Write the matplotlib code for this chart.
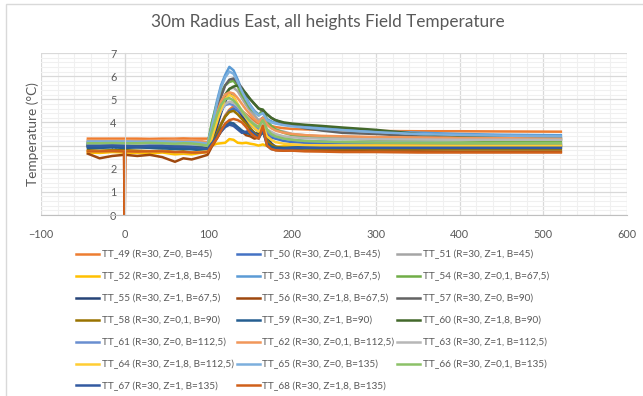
import matplotlib
matplotlib.use("Agg")
import matplotlib.pyplot as plt
from matplotlib.patches import Rectangle
from matplotlib.ticker import MultipleLocator

plt.rcParams['font.family'] = ['Lato', 'DejaVu Sans']

# Elapsed time (s) shared by all sensors
time_s = [-44, -30, -15, -1, 0, 1, 15, 30, 45, 60, 70, 80, 90, 99,
          104, 110, 115, 120, 125, 130, 135, 140, 145, 150, 155, 160, 165, 170, 175, 180, 190, 200,
          215, 235, 260, 300, 350, 400, 450, 521]

tt_49 = [3.30, 3.30, 3.30, 3.30, 3.30, 3.30, 3.30, 3.29, 3.30, 3.30, 3.31, 3.30, 3.30, 3.30,
         3.35, 3.60, 3.95, 4.30, 4.55, 4.70, 4.65, 4.50, 4.35, 4.20, 4.05, 3.95, 4.10, 3.90, 3.85, 3.80, 3.75, 3.72,
         3.70, 3.68, 3.65, 3.63, 3.62, 3.62, 3.61, 3.60]
tt_50 = [3.00, 3.02, 3.00, 3.01, 3.00, 3.00, 2.98, 3.00, 2.99, 2.95, 2.90, 2.92, 2.95, 2.90,
         3.10, 3.50, 3.90, 4.25, 4.50, 4.60, 4.50, 4.30, 4.10, 3.90, 3.75, 3.60, 3.85, 3.50, 3.35, 3.30, 3.20, 3.15,
         3.12, 3.10, 3.10, 3.08, 3.07, 3.06, 3.05, 3.05]
tt_51 = [3.05, 3.05, 3.06, 3.05, 3.05, 3.05, 3.04, 3.05, 3.06, 3.05, 3.04, 3.03, 3.00, 2.95,
         3.40, 4.10, 4.70, 5.15, 5.45, 5.50, 5.35, 5.05, 4.75, 4.50, 4.30, 4.10, 4.20, 3.95, 3.80, 3.70, 3.60, 3.50,
         3.45, 3.40, 3.38, 3.35, 3.33, 3.32, 3.30, 3.30]
tt_52 = [2.70, 2.68, 2.72, 2.70, 2.70, 2.70, 2.68, 2.66, 2.70, 2.62, 2.65, 2.62, 2.68, 2.72,
         3.00, 3.08, 3.10, 3.12, 3.28, 3.25, 3.12, 3.10, 3.12, 3.08, 3.05, 3.00, 3.05, 2.98, 2.95, 2.95, 2.97, 2.98,
         3.00, 3.00, 2.98, 3.00, 2.99, 3.00, 2.98, 2.98]
tt_53 = [3.15, 3.15, 3.14, 3.15, 3.15, 3.15, 3.16, 3.15, 3.14, 3.12, 3.13, 3.12, 3.10, 3.05,
         3.90, 4.90, 5.60, 6.05, 6.40, 6.25, 5.85, 5.40, 5.05, 4.75, 4.50, 4.35, 4.45, 4.15, 4.05, 3.98, 3.92, 3.87,
         3.82, 3.76, 3.70, 3.62, 3.56, 3.50, 3.47, 3.45]
tt_54 = [3.12, 3.12, 3.13, 3.12, 3.12, 3.12, 3.10, 3.12, 3.13, 3.10, 3.11, 3.12, 3.10, 3.05,
         4.00, 4.80, 5.30, 5.60, 5.75, 5.80, 5.55, 5.20, 4.90, 4.60, 4.45, 4.30, 4.55, 4.10, 3.85, 3.70, 3.55, 3.45,
         3.38, 3.32, 3.28, 3.25, 3.23, 3.22, 3.20, 3.20]
tt_55 = [2.95, 2.95, 2.97, 2.95, 2.95, 2.95, 2.93, 2.95, 2.96, 2.92, 2.90, 2.90, 2.88, 2.85,
         3.20, 3.80, 4.40, 4.90, 5.25, 5.10, 4.70, 4.30, 4.00, 3.70, 3.55, 3.50, 4.20, 3.40, 3.10, 2.95, 2.85, 2.85,
         2.90, 2.92, 2.95, 2.97, 2.98, 3.00, 3.00, 3.00]
tt_56 = [2.65, 2.45, 2.55, 2.60, 2.60, 2.60, 2.55, 2.60, 2.50, 2.30, 2.45, 2.40, 2.50, 2.60,
         2.95, 3.30, 3.60, 3.85, 4.00, 3.95, 3.75, 3.60, 3.45, 3.40, 3.30, 3.35, 3.90, 3.20, 2.90, 2.80, 2.78, 2.80,
         2.78, 2.78, 2.76, 2.75, 2.75, 2.74, 2.74, 2.74]
tt_57 = [3.05, 3.05, 3.06, 3.04, 3.05, 3.05, 3.05, 3.05, 3.04, 3.02, 3.00, 3.00, 2.98, 2.95,
         3.60, 4.50, 5.10, 5.60, 5.85, 5.90, 5.70, 5.50, 5.20, 5.00, 4.80, 4.60, 4.50, 4.35, 4.20, 4.10, 3.95, 3.90,
         3.75, 3.65, 3.55, 3.50, 3.40, 3.32, 3.28, 3.25]
tt_58 = [2.80, 2.78, 2.80, 2.80, 2.80, 2.80, 2.78, 2.76, 2.78, 2.72, 2.75, 2.70, 2.72, 2.75,
         3.10, 3.50, 3.90, 4.25, 4.45, 4.50, 4.35, 4.15, 3.95, 3.75, 3.55, 3.40, 3.60, 3.20, 3.05, 2.95, 2.90, 2.88,
         2.87, 2.86, 2.85, 2.85, 2.85, 2.84, 2.84, 2.84]
tt_59 = [2.90, 2.90, 2.92, 2.90, 2.90, 2.90, 2.92, 2.90, 2.88, 2.85, 2.86, 2.84, 2.80, 2.78,
         3.10, 3.40, 3.70, 3.90, 4.00, 3.95, 3.80, 3.65, 3.55, 3.50, 3.45, 3.35, 3.60, 3.10, 2.95, 2.90, 2.90, 2.92,
         2.93, 2.94, 2.95, 2.95, 2.95, 2.95, 2.95, 2.95]
tt_60 = [3.00, 3.00, 3.01, 3.00, 3.00, 3.00, 2.99, 3.00, 3.00, 2.98, 2.97, 2.96, 2.95, 2.90,
         3.40, 4.20, 4.80, 5.20, 5.45, 5.55, 5.60, 5.45, 5.25, 5.00, 4.80, 4.60, 4.55, 4.35, 4.20, 4.10, 4.00, 3.95,
         3.90, 3.85, 3.78, 3.68, 3.50, 3.42, 3.36, 3.32]
tt_61 = [3.08, 3.08, 3.09, 3.08, 3.08, 3.08, 3.07, 3.08, 3.08, 3.05, 3.06, 3.05, 3.02, 3.00,
         3.50, 4.10, 4.50, 4.75, 4.80, 4.75, 4.60, 4.40, 4.20, 4.00, 3.85, 3.70, 3.95, 3.60, 3.45, 3.38, 3.30, 3.25,
         3.20, 3.18, 3.15, 3.13, 3.12, 3.10, 3.10, 3.10]
tt_62 = [3.22, 3.22, 3.23, 3.22, 3.22, 3.22, 3.20, 3.22, 3.23, 3.25, 3.22, 3.24, 3.20, 3.15,
         3.60, 4.40, 4.90, 5.20, 5.30, 5.25, 5.05, 4.80, 4.55, 4.35, 4.15, 4.00, 4.20, 3.90, 3.75, 3.65, 3.55, 3.50,
         3.45, 3.42, 3.40, 3.37, 3.35, 3.33, 3.32, 3.30]
tt_63 = [3.10, 3.10, 3.10, 3.10, 3.10, 3.10, 3.09, 3.10, 3.10, 3.08, 3.07, 3.06, 3.05, 3.00,
         3.50, 4.10, 4.50, 4.80, 4.90, 4.85, 4.70, 4.50, 4.30, 4.10, 3.95, 3.80, 4.00, 3.70, 3.60, 3.50, 3.40, 3.36,
         3.32, 3.30, 3.28, 3.27, 3.26, 3.25, 3.25, 3.25]
tt_64 = [2.75, 2.75, 2.76, 2.75, 2.75, 2.75, 2.72, 2.74, 2.75, 2.70, 2.68, 2.70, 2.72, 2.75,
         3.30, 4.00, 4.60, 5.00, 5.20, 5.10, 4.80, 4.50, 4.20, 3.95, 3.75, 3.60, 3.85, 3.40, 3.25, 3.15, 3.08, 3.05,
         3.02, 3.00, 3.00, 3.00, 3.00, 3.00, 3.00, 3.00]
tt_65 = [3.18, 3.18, 3.18, 3.18, 3.18, 3.18, 3.17, 3.18, 3.18, 3.16, 3.15, 3.15, 3.12, 3.08,
         3.80, 4.80, 5.50, 5.95, 6.20, 6.10, 5.75, 5.35, 5.00, 4.70, 4.45, 4.30, 4.40, 4.10, 4.00, 3.95, 3.88, 3.83,
         3.78, 3.72, 3.66, 3.58, 3.50, 3.46, 3.43, 3.40]
tt_66 = [3.10, 3.10, 3.11, 3.10, 3.10, 3.10, 3.10, 3.12, 3.10, 3.08, 3.10, 3.09, 3.05, 3.00,
         3.60, 4.30, 4.75, 5.00, 5.05, 4.95, 4.75, 4.50, 4.25, 4.05, 3.90, 3.80, 4.10, 3.70, 3.50, 3.40, 3.30, 3.25,
         3.20, 3.17, 3.15, 3.13, 3.12, 3.10, 3.10, 3.10]
tt_67 = [2.98, 2.98, 3.00, 2.98, 2.98, 2.98, 2.96, 2.98, 2.98, 2.95, 2.94, 2.93, 2.90, 2.85,
         3.10, 3.35, 3.60, 3.80, 3.90, 3.85, 3.70, 3.55, 3.60, 3.65, 3.50, 3.30, 3.70, 3.00, 2.85, 2.82, 2.85, 2.88,
         2.90, 2.90, 2.90, 2.90, 2.90, 2.90, 2.90, 2.90]
tt_68 = [2.75, 2.75, 2.76, 2.75, 0.00, 2.75, 2.74, 2.75, 2.75, 2.72, 2.72, 2.70, 2.70, 2.72,
         3.00, 3.30, 3.65, 3.95, 4.10, 4.15, 4.10, 4.00, 3.80, 3.55, 3.40, 3.30, 3.85, 3.00, 2.85, 2.80, 2.78, 2.78,
         2.75, 2.74, 2.72, 2.72, 2.70, 2.70, 2.70, 2.70]

series = [
    ("TT_49 (R=30, Z=0, B=45)", tt_49, "#ED7D31"),
    ("TT_50 (R=30, Z=0,1, B=45)", tt_50, "#4472C4"),
    ("TT_51 (R=30, Z=1, B=45)", tt_51, "#A5A5A5"),
    ("TT_52 (R=30, Z=1,8, B=45)", tt_52, "#FFC000"),
    ("TT_53 (R=30, Z=0, B=67,5)", tt_53, "#5B9BD5"),
    ("TT_54 (R=30, Z=0,1, B=67,5)", tt_54, "#70AD47"),
    ("TT_55 (R=30, Z=1, B=67,5)", tt_55, "#264478"),
    ("TT_56 (R=30, Z=1,8, B=67,5)", tt_56, "#9E480E"),
    ("TT_57 (R=30, Z=0, B=90)", tt_57, "#636363"),
    ("TT_58 (R=30, Z=0,1, B=90)", tt_58, "#997300"),
    ("TT_59 (R=30, Z=1, B=90)", tt_59, "#255E91"),
    ("TT_60 (R=30, Z=1,8, B=90)", tt_60, "#43682B"),
    ("TT_61 (R=30, Z=0, B=112,5)", tt_61, "#698ED0"),
    ("TT_62 (R=30, Z=0,1, B=112,5)", tt_62, "#F1975A"),
    ("TT_63 (R=30, Z=1, B=112,5)", tt_63, "#B7B7B7"),
    ("TT_64 (R=30, Z=1,8, B=112,5)", tt_64, "#FFCD33"),
    ("TT_65 (R=30, Z=0, B=135)", tt_65, "#7CAFDD"),
    ("TT_66 (R=30, Z=0,1, B=135)", tt_66, "#8CC168"),
    ("TT_67 (R=30, Z=1, B=135)", tt_67, "#335AA1"),
    ("TT_68 (R=30, Z=1,8, B=135)", tt_68, "#D0601A"),
]

x_min, x_max = -100, 600
y_min, y_max = 0, 7
text_color = "#595959"

fig = plt.figure(figsize=(6.43, 3.96), dpi=100)
fig.patch.set_facecolor("white")

# chart-area frame
fig.add_artist(Rectangle((5.5 / 643, -0.05), 1.2, 1 - 3.5 / 396 + 0.05,
                         transform=fig.transFigure, fill=False,
                         edgecolor="#D9D9D9", linewidth=1.0))

ax = fig.add_axes([41 / 643, 1 - 215 / 396, (627 - 41) / 643, (215 - 53) / 396])
ax.set_xlim(x_min, x_max)
ax.set_ylim(y_min, y_max)

ax.xaxis.set_major_locator(MultipleLocator(100))
ax.xaxis.set_minor_locator(MultipleLocator(20))
ax.yaxis.set_major_locator(MultipleLocator(1))
ax.yaxis.set_minor_locator(MultipleLocator(0.2))
ax.grid(which="minor", color="#F0F0F0", linewidth=0.8)
ax.grid(which="major", color="#D9D9D9", linewidth=0.9)
ax.set_axisbelow(True)

for s in ["top", "right"]:
    ax.spines[s].set_visible(False)
ax.spines["left"].set_position(("data", 0))
ax.spines["left"].set_color("#D9D9D9")
ax.spines["bottom"].set_color("#BFBFBF")
ax.tick_params(which="both", length=0)
ax.tick_params(axis="x", pad=10, labelsize=7.8, labelcolor=text_color)
ax.tick_params(axis="y", pad=6, labelsize=7.8, labelcolor=text_color)

lines = []
for label, vals, color in series:
    ln, = ax.plot(time_s, vals, color=color, linewidth=1.8, label=label,
                  solid_joinstyle="round")
    lines.append(ln)

fig.text(33 / 643, 1 - 134 / 396, "Temperature (°C)", rotation=90,
         ha="center", va="center", fontsize=9.8, color=text_color)

fig.text(328 / 643, 1 - 22 / 396, "30m Radius East, all heights Field Temperature",
         ha="center", va="center", fontsize=12.4, color=text_color)

# legend laid out row by row in three columns
ncol = 3
order = [i for c in range(ncol) for i in range(c, len(lines), ncol)]
leg = fig.legend([lines[i] for i in order], [series[i][0] for i in order],
                 loc="upper left", bbox_to_anchor=(76 / 643, 1 - 250 / 396),
                 ncol=ncol, frameon=False, fontsize=7.2, borderpad=0,
                 borderaxespad=0, handlelength=2.3, handletextpad=0.3,
                 columnspacing=0.25, labelspacing=1.25, labelcolor=text_color)

fig.savefig("out.png", dpi=100)
